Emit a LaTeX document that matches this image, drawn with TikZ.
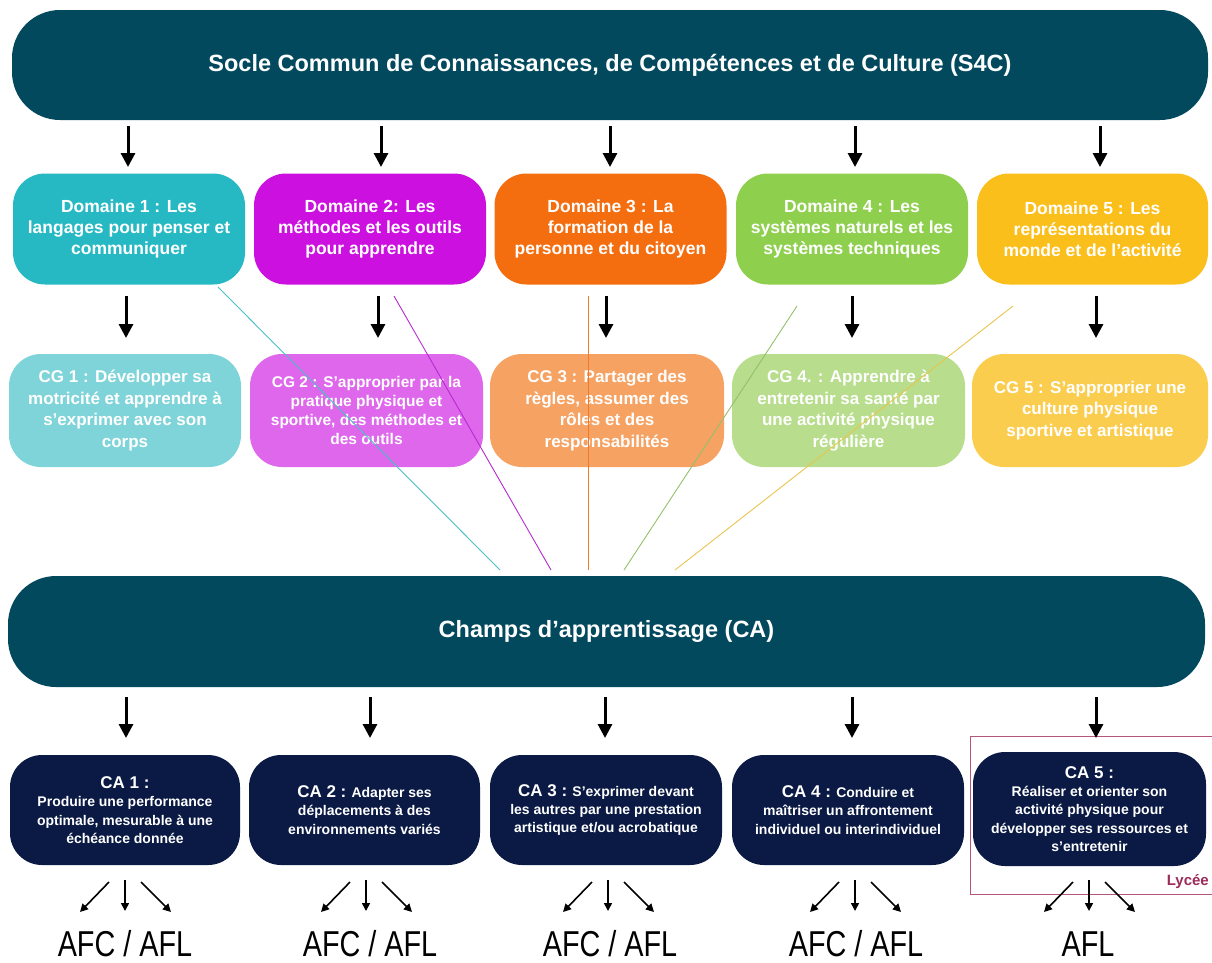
\documentclass[tikz,border=0pt]{standalone}
\usepackage{fontspec}
\setmainfont{Liberation Sans}
\newfontfamily\condfont[FakeStretch=0.8]{Liberation Sans}
\usetikzlibrary{arrows.meta}
\definecolor{barcol}{HTML}{03495E}
\definecolor{navy}{HTML}{0B1A44}
\definecolor{dA}{HTML}{27B9C3}
\definecolor{dB}{HTML}{CB10DF}
\definecolor{dC}{HTML}{F46E10}
\definecolor{dD}{HTML}{8FCF4E}
\definecolor{dE}{HTML}{FBBF1B}
\definecolor{cA}{HTML}{7ED4D8}
\definecolor{cB}{HTML}{DE67EC}
\definecolor{cC}{HTML}{F6A262}
\definecolor{cD}{HTML}{B7DD8D}
\definecolor{cE}{HTML}{FBCD4E}
\definecolor{lA}{HTML}{4BBFC6}
\definecolor{lB}{HTML}{B52BD0}
\definecolor{lC}{HTML}{F07A2A}
\definecolor{lD}{HTML}{93C06A}
\definecolor{lE}{HTML}{E9C54E}
\definecolor{lyc}{HTML}{B4567C}
\definecolor{lyctext}{HTML}{9B2B5A}
\begin{document}
\begin{tikzpicture}[x=1pt,y=-1pt,
  bar/.style={fill=barcol, rounded corners=48pt, text=white, inner sep=0pt,
    font=\bfseries\fontsize{23.5}{27}\selectfont},
  dombox/.style={rounded corners=32pt, text=white, align=center, inner sep=0pt,
    minimum width=232pt, minimum height=111pt,
    font=\bfseries\fontsize{17.5}{21}\selectfont},
  cgbox/.style={rounded corners=32pt, text=white, align=center, inner sep=0pt,
    minimum width=233pt, minimum height=113pt,
    font=\bfseries\fontsize{17}{21.5}\selectfont},
  cabox/.style={fill=navy, rounded corners=32pt, text=white, align=center, inner sep=0pt,
    minimum width=231pt, minimum height=110pt,
    font=\bfseries\fontsize{14}{18.3}\selectfont},
  bigarr/.style={line width=3pt, -{Triangle[length=14pt,width=14pt]}},
  smallarr/.style={line width=1.6pt, -{Triangle[length=8pt,width=8pt]}},
  link/.style={line width=0.9pt},
  afc/.style={inner sep=0pt, anchor=base, font=\condfont\fontsize{36}{40}\selectfont}
]
\useasboundingbox (0,0) rectangle (1212,962);

% top bar
\node[bar, minimum width=1196pt, minimum height=110pt] (top) at (610,65)
  {Socle Commun de Connaissances, de Compétences et de Culture (S4C)};

% domains
\node[dombox, fill=dA] (d1) at (129,229) {Domaine 1 : Les\\langages pour penser et\\communiquer};
\node[dombox, fill=dB] (d2) at (370,229) {Domaine 2: Les\\méthodes et les outils\\pour apprendre};
\node[dombox, fill=dC] (d3) at (610.5,229) {Domaine 3 : La\\formation de la\\personne et du citoyen};
\node[dombox, fill=dD] (d4) at (852,229) {Domaine 4 : Les\\systèmes naturels et les\\systèmes techniques};
\node[dombox, fill=dE, minimum width=231pt] (d5) at (1092.5,229) {Domaine 5 : Les\\représentations du\\monde et de l’activité};

% CG
\node[cgbox, fill=cA, minimum width=232pt] (g1) at (125,410.5) {CG 1 : Développer sa\\motricité et apprendre à\\s'exprimer avec son\\corps};
\node[cgbox, fill=cB, font=\bfseries\fontsize{15.5}{19}\selectfont] (g2) at (366.5,410.5) {CG 2 : S'approprier par la\\pratique physique et\\sportive, des méthodes et\\des outils};
\node[cgbox, fill=cC, minimum width=234pt] (g3) at (607,410.5) {CG 3 : Partager des\\règles, assumer des\\rôles et des\\responsabilités};
\node[cgbox, fill=cD] (g4) at (848.5,410.5) {CG 4. : Apprendre à\\entretenir sa santé par\\une activité physique\\régulière};
\node[cgbox, fill=cE, minimum width=236pt] (g5) at (1090,410.5) {CG 5 : S'approprier une\\culture physique\\sportive et artistique};

% CA bar
\node[bar, minimum width=1197pt, minimum height=111pt] (cab) at (606.5,631.5) {Champs d’apprentissage (CA)};

% CA boxes
\node[cabox, minimum width=230pt] (a1) at (125,810) {{\fontsize{17}{20}\selectfont CA 1 :}\\Produire une performance\\optimale, mesurable à une\\échéance donnée};
\node[cabox] (a2) at (364.5,810) {{\fontsize{17}{20}\selectfont CA 2 :} Adapter ses\\déplacements à des\\environnements variés};
\node[cabox, minimum width=232pt] (a3) at (606,810) {{\fontsize{17}{20}\selectfont CA 3 :} S'exprimer devant\\les autres par une prestation\\artistique et/ou acrobatique};
\node[cabox, minimum width=232pt] (a4) at (848,810) {{\fontsize{17}{20}\selectfont CA 4 :} Conduire et\\maîtriser un affrontement\\individuel ou interindividuel};
\node[cabox, minimum width=233pt, minimum height=114pt] (a5) at (1089.5,809) {{\fontsize{17}{20}\selectfont CA 5 :}\\Réaliser et orienter son\\activité physique pour\\développer ses ressources et\\s’entretenir};

% Lycee frame
\draw[lyc, line width=1pt] (1213,736) -- (970,736) -- (970,894) -- (1213,894);
\node[anchor=east, inner sep=0pt, text=lyctext, font=\bfseries\fontsize{15}{18}\selectfont] (lyc) at (1209,882) {Lycée};

% arrows row 1
\foreach \x [count=\i] in {128,381,610,855,1100}{
  \coordinate (t\i s) at (\x,126);
  \coordinate (t\i e) at (\x,167);
  \draw[bigarr] (t\i s) -- (t\i e);
}
% arrows row 2
\foreach \x [count=\i] in {126,378,606,852,1096}{
  \coordinate (m\i s) at (\x,296);
  \coordinate (m\i e) at (\x,338);
  \draw[bigarr] (m\i s) -- (m\i e);
}
% arrows row 3
\foreach \x [count=\i] in {126,370,605,852,1096}{
  \coordinate (b\i s) at (\x,697);
  \coordinate (b\i e) at (\x,738);
  \draw[bigarr] (b\i s) -- (b\i e);
}

% coloured links
\coordinate (k1s) at (218,287); \coordinate (k1e) at (500,570);
\coordinate (k2s) at (394,296); \coordinate (k2e) at (551,570);
\coordinate (k3s) at (588,296); \coordinate (k3e) at (588,570);
\coordinate (k4s) at (797,306); \coordinate (k4e) at (624,570);
\coordinate (k5s) at (1013,306); \coordinate (k5e) at (675,570);
\draw[link, lA] (k1s) -- (k1e);
\draw[link, lB] (k2s) -- (k2e);
\draw[link, lC] (k3s) -- (k3e);
\draw[link, lD] (k4s) -- (k4e);
\draw[link, lE] (k5s) -- (k5e);

% AFC / AFL labels
\node[afc] (f1) at (125,956) {AFC / AFL};
\node[afc] (f2) at (370,956) {AFC / AFL};
\node[afc] (f3) at (610,956) {AFC / AFL};
\node[afc] (f4) at (856,956) {AFC / AFL};
\node[afc] (f5) at (1088,956) {AFL};

% small arrows
\foreach \c [count=\i] in {125,366,608,855,1089}{
  \coordinate (sl\i) at (\c-16,882); \coordinate (el\i) at (\c-45,912);
  \coordinate (sm\i) at (\c,880);    \coordinate (em\i) at (\c,911);
  \coordinate (sr\i) at (\c+16,882); \coordinate (er\i) at (\c+46,912);
  \draw[smallarr] (sl\i) -- (el\i);
  \draw[smallarr] (sm\i) -- (em\i);
  \draw[smallarr] (sr\i) -- (er\i);
}
\end{tikzpicture}
\end{document}
